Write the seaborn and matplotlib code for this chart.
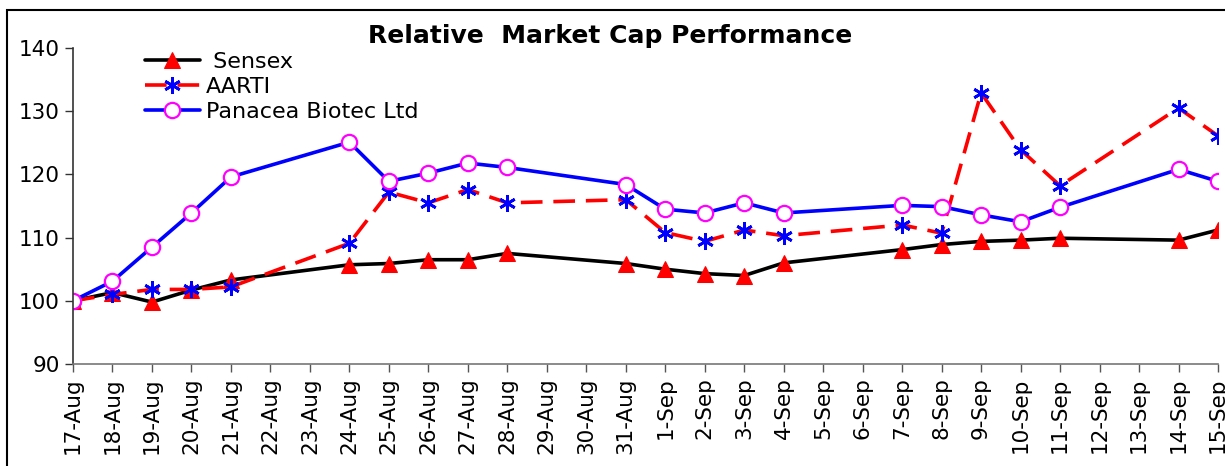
import pandas as pd
import numpy as np
import matplotlib.pyplot as plt
import seaborn as sns
from matplotlib.patches import Rectangle

sns.set_style("white")
plt.rcParams['font.family'] = ['DejaVu Sans']
plt.rcParams['text.color'] = 'black'

dates = ['2009-08-17', '2009-08-18', '2009-08-19', '2009-08-20', '2009-08-21',
         '2009-08-24', '2009-08-25', '2009-08-26', '2009-08-27', '2009-08-28',
         '2009-08-31', '2009-09-01', '2009-09-02', '2009-09-03', '2009-09-04',
         '2009-09-07', '2009-09-08', '2009-09-09', '2009-09-10', '2009-09-11',
         '2009-09-14', '2009-09-15']
sensex = [100, 101.3, 99.8, 101.7, 103.3, 105.7, 105.9, 106.5, 106.5, 107.5,
          105.9, 105.0, 104.3, 104.0, 106.0, 108.1, 108.9, 109.4, 109.6, 109.9,
          109.6, 111.2]
aarti = [100, 101.0, 101.8, 101.8, 102.2, 109.1, 117.2, 115.5, 117.6, 115.5,
         116.0, 110.8, 109.4, 111.2, 110.3, 112.0, 110.7, 132.9, 123.9, 118.2,
         130.5, 126.1]
panacea = [100, 103.1, 108.5, 113.9, 119.6, 125.1, 118.9, 120.2, 121.8, 121.1,
           118.4, 114.5, 113.9, 115.5, 113.9, 115.1, 114.9, 113.6, 112.5, 114.8,
           120.8, 118.9]
axis_days = pd.date_range('2009-08-17', '2009-09-15', freq='D')

start = pd.Timestamp('2009-08-17')
day = (pd.to_datetime(dates) - start).days.values
tick_pos = (axis_days - start).days.values
tick_labels = [f"{d.day}-{d.strftime('%b')}" for d in axis_days]

fig = plt.figure(figsize=(12.25, 4.66), dpi=100)
ax = fig.add_axes([73 / 1225, 102 / 466, 1145 / 1225, 316 / 466])

sns.lineplot(x=day, y=sensex, ax=ax, color='black', lw=2.6, marker='^',
             markersize=11, markerfacecolor='red', markeredgecolor='red',
             label=' Sensex')
sns.lineplot(x=day, y=aarti, ax=ax, color='red', lw=2.6, marker=(6, 2, 0),
             markersize=12, markeredgecolor='blue', markeredgewidth=2,
             dashes=(6, 3), label='AARTI')
sns.lineplot(x=day, y=panacea, ax=ax, color='blue', lw=2.6, marker='o',
             markersize=11, markerfacecolor='white', markeredgecolor='magenta',
             markeredgewidth=1.6, label='Panacea Biotec Ltd')

ax.set_xlim(tick_pos[0], tick_pos[-1])
ax.set_ylim(90, 140)
ax.set_yticks(np.arange(90, 141, 10))
ax.set_xticks(tick_pos)
ax.set_xticklabels(tick_labels, rotation=90, fontsize=15.5)
ax.tick_params(axis='y', labelsize=15.5, direction='out', length=6, width=1,
               left=True, colors='#333333', labelcolor='black')
ax.tick_params(axis='x', direction='out', length=6, width=1, bottom=True,
               colors='#555555', labelcolor='black')
ax.set_xlabel('')
ax.set_ylabel('')
for s in ['top', 'right']:
    ax.spines[s].set_visible(False)
ax.spines['left'].set_color('#333333')
ax.spines['bottom'].set_color('#777777')
ax.spines['left'].set_linewidth(1.2)
ax.spines['bottom'].set_linewidth(1.2)

ax.legend(loc='upper left', bbox_to_anchor=(0.045, 1.05), frameon=False,
          fontsize=16, handlelength=2.5, labelspacing=0.22, handletextpad=0.25)

fig.text(0.498, 0.923, 'Relative  Market Cap Performance', ha='center',
         va='center', fontsize=18, fontweight='bold', color='black')

fig.patches.append(Rectangle((7 / 1225, -0.05), 1.1, 1 - 10 / 466 + 0.05,
                             transform=fig.transFigure, fill=False,
                             edgecolor='black', lw=1.5))

plt.savefig('out.png', dpi=100)
